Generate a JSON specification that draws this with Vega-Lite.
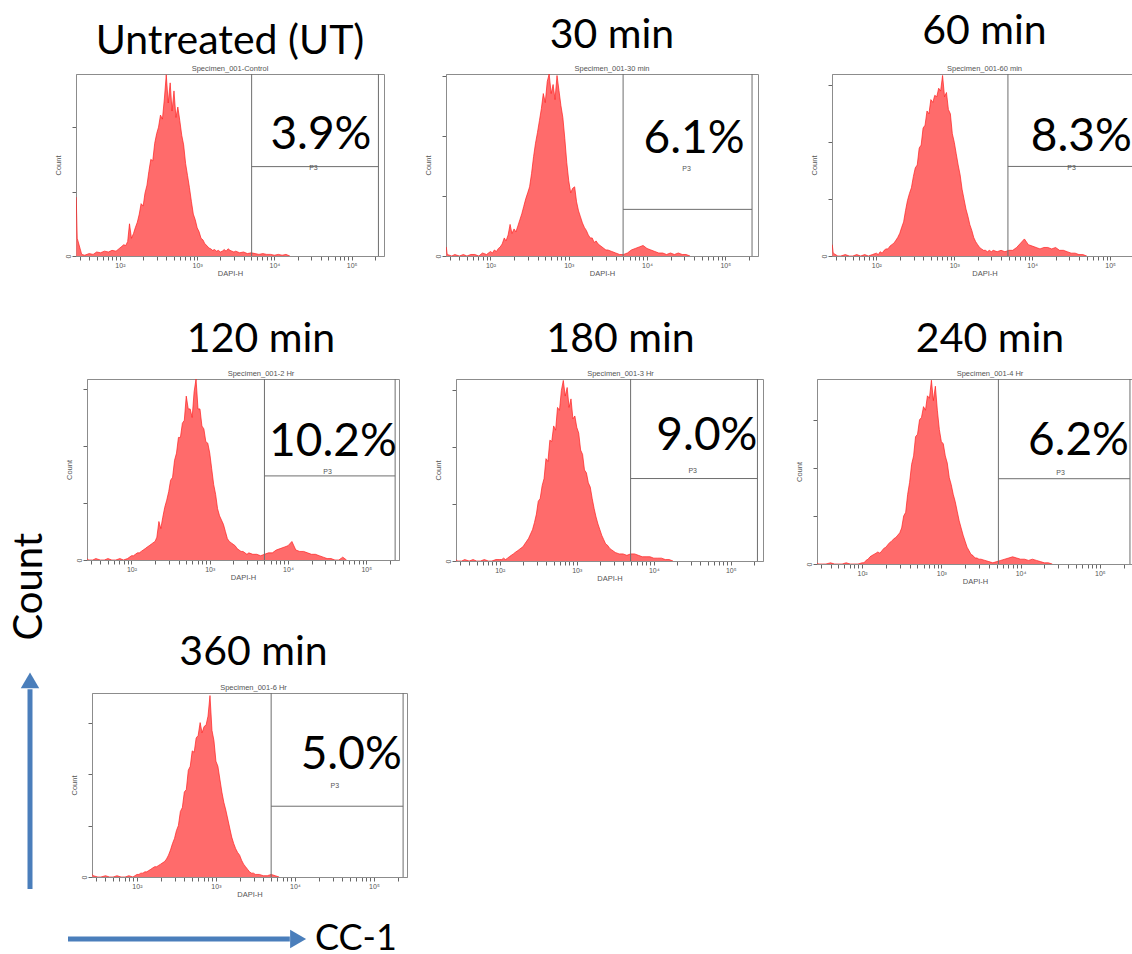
{
"$schema": "https://vega.github.io/schema/vega-lite/v6.json",
"padding": {"left": 8, "top": 10, "right": 0, "bottom": 0},
"background": "white",
"config": {
 "view": {"stroke": "#8c8c8c", "strokeWidth": 1},
 "axis": {"grid": false, "domainColor": "#8c8c8c", "tickColor": "#666", "tickSize": 4, "labelColor": "#555", "titleColor": "#555", "labelFont": "Liberation Sans", "titleFont": "Liberation Sans", "labelFontSize": 7, "titleFontSize": 7.5, "titleFontWeight": "normal", "labelPadding": 1, "labelOverlap": false, "labelFlush": false},
 "axisX": {"titlePadding": 1},
 "axisY": {"labelAngle": -90, "titlePadding": 2},
 "title": {"font": "Lato", "fontSize": 41, "fontWeight": "normal", "color": "#000", "anchor": "middle", "frame": "group", "offset": 0.1, "subtitleFont": "Liberation Sans", "subtitleFontSize": 7.5, "subtitleColor": "#555", "subtitlePadding": 2}
},
"datasets": {
"d1": [{"x":27.2,"c":73},{"x":28,"c":22},{"x":32,"c":2},{"x":35,"c":1},{"x":40,"c":3},{"x":45,"c":2},{"x":50,"c":5},{"x":56,"c":4},{"x":63,"c":6},{"x":71,"c":5},{"x":79,"c":7},{"x":89,"c":6},
{"x":100,"c":10},{"x":106,"c":12},{"x":112,"c":14},{"x":119,"c":13},{"x":126,"c":18},{"x":133,"c":40},{"x":141,"c":22},{"x":150,"c":28},{"x":158,"c":35},{"x":168,"c":42},
{"x":178,"c":52},{"x":188,"c":65},{"x":200,"c":62},{"x":211,"c":78},{"x":224,"c":88},{"x":237,"c":105},{"x":251,"c":120},{"x":266,"c":118},{"x":282,"c":140},{"x":299,"c":152},
{"x":316,"c":160},{"x":335,"c":175},{"x":355,"c":170},{"x":376,"c":195},{"x":398,"c":225},{"x":422,"c":190},{"x":447,"c":215},{"x":473,"c":180},{"x":501,"c":205},{"x":531,"c":172},
{"x":562,"c":185},{"x":596,"c":168},{"x":631,"c":150},{"x":668,"c":138},{"x":708,"c":115},{"x":750,"c":100},{"x":794,"c":85},{"x":841,"c":68},{"x":891,"c":52},{"x":944,"c":45},
{"x":1000,"c":35},{"x":1059,"c":30},{"x":1122,"c":22},{"x":1189,"c":20},{"x":1259,"c":15},{"x":1334,"c":13},{"x":1413,"c":10},{"x":1496,"c":9},{"x":1585,"c":7},{"x":1679,"c":8},
{"x":1778,"c":6},{"x":1884,"c":7},{"x":1995,"c":5},{"x":2113,"c":6},{"x":2239,"c":8},{"x":2371,"c":6},{"x":2512,"c":9},{"x":2661,"c":7},{"x":2818,"c":6},{"x":2985,"c":5},
{"x":3162,"c":6},{"x":3548,"c":4},{"x":3981,"c":5},{"x":4467,"c":3},{"x":5012,"c":4},{"x":5623,"c":3},{"x":6310,"c":2},{"x":7079,"c":3},{"x":7943,"c":2},{"x":8913,"c":2},{"x":10000,"c":1},{"x":11220,"c":2},{"x":12589,"c":1},{"x":14125,"c":2},{"x":15849,"c":0}],
"d2": [{"x":27.2,"c":6},{"x":28,"c":1},{"x":32,"c":0},{"x":35,"c":1},{"x":40,"c":0},{"x":45,"c":1},{"x":50,"c":0},{"x":56,"c":1},{"x":63,"c":1},{"x":71,"c":0},{"x":79,"c":2},{"x":89,"c":1},
{"x":100,"c":3},{"x":106,"c":2},{"x":112,"c":4},{"x":119,"c":3},{"x":126,"c":5},{"x":133,"c":6},{"x":141,"c":8},{"x":150,"c":12},{"x":158,"c":10},{"x":168,"c":14},
{"x":178,"c":21},{"x":188,"c":15},{"x":200,"c":18},{"x":211,"c":16},{"x":224,"c":20},{"x":237,"c":24},{"x":251,"c":28},{"x":266,"c":33},{"x":282,"c":38},{"x":299,"c":42},
{"x":316,"c":46},{"x":335,"c":55},{"x":355,"c":66},{"x":376,"c":75},{"x":398,"c":82},{"x":422,"c":90},{"x":447,"c":98},{"x":473,"c":108},{"x":501,"c":102},{"x":531,"c":116},
{"x":562,"c":121},{"x":596,"c":108},{"x":631,"c":114},{"x":668,"c":104},{"x":708,"c":120},{"x":750,"c":110},{"x":794,"c":100},{"x":841,"c":92},{"x":891,"c":78},{"x":944,"c":62},
{"x":1000,"c":50},{"x":1059,"c":42},{"x":1122,"c":45},{"x":1189,"c":46},{"x":1259,"c":36},{"x":1334,"c":30},{"x":1413,"c":26},{"x":1496,"c":22},{"x":1585,"c":19},{"x":1679,"c":17},
{"x":1778,"c":14},{"x":1884,"c":12},{"x":1995,"c":12},{"x":2113,"c":9},{"x":2239,"c":10},{"x":2371,"c":8},{"x":2512,"c":7},{"x":2661,"c":6},{"x":2818,"c":5},{"x":2985,"c":4},
{"x":3162,"c":4},{"x":3548,"c":3},{"x":3981,"c":2},{"x":4467,"c":1},{"x":5012,"c":1},{"x":5623,"c":2},{"x":6310,"c":4},{"x":7079,"c":5},{"x":7943,"c":6},{"x":8913,"c":7},{"x":10000,"c":5},{"x":11220,"c":4},{"x":12589,"c":3},{"x":14125,"c":2},{"x":15849,"c":2},{"x":17783,"c":1},{"x":19953,"c":2},{"x":22387,"c":1},{"x":25119,"c":2},{"x":28184,"c":1},{"x":31623,"c":1},{"x":35481,"c":0}],
"d3": [{"x":27.2,"c":8},{"x":28,"c":2},{"x":32,"c":0},{"x":35,"c":0},{"x":40,"c":1},{"x":45,"c":0},{"x":50,"c":0},{"x":56,"c":1},{"x":63,"c":0},{"x":71,"c":1},{"x":79,"c":0},{"x":89,"c":1},
{"x":100,"c":2},{"x":106,"c":1},{"x":112,"c":3},{"x":119,"c":2},{"x":126,"c":4},{"x":133,"c":5},{"x":141,"c":5},{"x":150,"c":7},{"x":158,"c":8},{"x":168,"c":9},
{"x":178,"c":11},{"x":188,"c":13},{"x":200,"c":16},{"x":211,"c":20},{"x":224,"c":24},{"x":237,"c":32},{"x":251,"c":39},{"x":266,"c":44},{"x":282,"c":48},{"x":299,"c":56},
{"x":316,"c":62},{"x":335,"c":64},{"x":355,"c":76},{"x":376,"c":78},{"x":398,"c":90},{"x":422,"c":92},{"x":447,"c":102},{"x":473,"c":100},{"x":501,"c":110},{"x":531,"c":108},
{"x":562,"c":113},{"x":596,"c":112},{"x":631,"c":118},{"x":668,"c":116},{"x":708,"c":127},{"x":750,"c":112},{"x":794,"c":115},{"x":841,"c":103},{"x":891,"c":100},{"x":944,"c":86},
{"x":1000,"c":80},{"x":1059,"c":72},{"x":1122,"c":64},{"x":1189,"c":57},{"x":1259,"c":47},{"x":1334,"c":40},{"x":1413,"c":33},{"x":1496,"c":28},{"x":1585,"c":22},{"x":1679,"c":18},
{"x":1778,"c":13},{"x":1884,"c":10},{"x":1995,"c":8},{"x":2113,"c":6},{"x":2239,"c":5},{"x":2371,"c":4},{"x":2512,"c":4},{"x":2661,"c":3},{"x":2818,"c":4},{"x":2985,"c":3},
{"x":3162,"c":4},{"x":3548,"c":3},{"x":3981,"c":4},{"x":4467,"c":3},{"x":5012,"c":4},{"x":5623,"c":4},{"x":6310,"c":6},{"x":7079,"c":9},{"x":7943,"c":12},{"x":8913,"c":8},{"x":10000,"c":7},{"x":11220,"c":6},{"x":12589,"c":5},{"x":14125,"c":6},{"x":15849,"c":6},{"x":17783,"c":5},{"x":19953,"c":6},{"x":22387,"c":4},{"x":25119,"c":4},{"x":28184,"c":3},{"x":31623,"c":2},{"x":35481,"c":2},{"x":39811,"c":1},{"x":44668,"c":1},{"x":50119,"c":0}],
"d4": [{"x":27.2,"c":1},{"x":28,"c":0},{"x":32,"c":0},{"x":35,"c":1},{"x":40,"c":0},{"x":45,"c":0},{"x":50,"c":1},{"x":56,"c":0},{"x":63,"c":0},{"x":71,"c":1},{"x":79,"c":0},{"x":89,"c":1},
{"x":100,"c":3},{"x":106,"c":3},{"x":112,"c":4},{"x":119,"c":5},{"x":126,"c":5},{"x":133,"c":6},{"x":141,"c":7},{"x":150,"c":8},{"x":158,"c":9},{"x":168,"c":10},
{"x":178,"c":11},{"x":188,"c":12},{"x":200,"c":13},{"x":211,"c":16},{"x":224,"c":27},{"x":237,"c":22},{"x":251,"c":30},{"x":266,"c":37},{"x":282,"c":42},{"x":299,"c":48},
{"x":316,"c":56},{"x":335,"c":58},{"x":355,"c":70},{"x":376,"c":75},{"x":398,"c":86},{"x":422,"c":86},{"x":447,"c":96},{"x":473,"c":98},{"x":501,"c":115},{"x":531,"c":106},
{"x":562,"c":106},{"x":596,"c":100},{"x":631,"c":118},{"x":668,"c":127},{"x":708,"c":106},{"x":750,"c":106},{"x":794,"c":94},{"x":841,"c":92},{"x":891,"c":83},{"x":944,"c":82},
{"x":1000,"c":75},{"x":1059,"c":64},{"x":1122,"c":53},{"x":1189,"c":46},{"x":1259,"c":36},{"x":1334,"c":31},{"x":1413,"c":28},{"x":1496,"c":25},{"x":1585,"c":20},{"x":1679,"c":15},
{"x":1778,"c":13},{"x":1884,"c":12},{"x":1995,"c":11},{"x":2113,"c":10},{"x":2239,"c":8},{"x":2371,"c":7},{"x":2512,"c":6},{"x":2661,"c":6},{"x":2818,"c":5},{"x":2985,"c":4},
{"x":3162,"c":5},{"x":3548,"c":4},{"x":3981,"c":4},{"x":4467,"c":3},{"x":5012,"c":4},{"x":5623,"c":5},{"x":6310,"c":5},{"x":7079,"c":7},{"x":7943,"c":8},{"x":8913,"c":9},{"x":10000,"c":10},{"x":11220,"c":13},{"x":12589,"c":7},{"x":14125,"c":6},{"x":15849,"c":6},{"x":17783,"c":5},{"x":19953,"c":4},{"x":22387,"c":4},{"x":25119,"c":3},{"x":28184,"c":2},{"x":31623,"c":1},{"x":35481,"c":1},{"x":39811,"c":0},{"x":44668,"c":0},{"x":50119,"c":2},{"x":56000,"c":0}],
"d5": [{"x":27.2,"c":1},{"x":28,"c":0},{"x":32,"c":0},{"x":35,"c":1},{"x":40,"c":0},{"x":45,"c":1},{"x":50,"c":0},{"x":56,"c":0},{"x":63,"c":1},{"x":71,"c":0},{"x":79,"c":0},{"x":89,"c":1},
{"x":100,"c":1},{"x":106,"c":1},{"x":112,"c":2},{"x":119,"c":1},{"x":126,"c":2},{"x":133,"c":3},{"x":141,"c":4},{"x":150,"c":5},{"x":158,"c":6},{"x":168,"c":7},
{"x":178,"c":8},{"x":188,"c":9},{"x":200,"c":10},{"x":211,"c":12},{"x":224,"c":14},{"x":237,"c":16},{"x":251,"c":19},{"x":266,"c":22},{"x":282,"c":27},{"x":299,"c":33},
{"x":316,"c":42},{"x":335,"c":44},{"x":355,"c":53},{"x":376,"c":58},{"x":398,"c":72},{"x":422,"c":70},{"x":447,"c":85},{"x":473,"c":84},{"x":501,"c":95},{"x":531,"c":92},
{"x":562,"c":108},{"x":596,"c":106},{"x":631,"c":120},{"x":668,"c":127},{"x":708,"c":116},{"x":750,"c":122},{"x":794,"c":108},{"x":841,"c":114},{"x":891,"c":100},{"x":944,"c":102},
{"x":1000,"c":94},{"x":1059,"c":90},{"x":1122,"c":78},{"x":1189,"c":75},{"x":1259,"c":64},{"x":1334,"c":62},{"x":1413,"c":55},{"x":1496,"c":52},{"x":1585,"c":44},{"x":1679,"c":37},
{"x":1778,"c":31},{"x":1884,"c":26},{"x":1995,"c":22},{"x":2113,"c":18},{"x":2239,"c":15},{"x":2371,"c":12},{"x":2512,"c":11},{"x":2661,"c":9},{"x":2818,"c":8},{"x":2985,"c":7},
{"x":3162,"c":6},{"x":3548,"c":5},{"x":3981,"c":5},{"x":4467,"c":4},{"x":5012,"c":5},{"x":5623,"c":5},{"x":6310,"c":4},{"x":7079,"c":3},{"x":7943,"c":3},{"x":8913,"c":3},{"x":10000,"c":2},{"x":11220,"c":2},{"x":12589,"c":2},{"x":14125,"c":1},{"x":15849,"c":1},{"x":17783,"c":0}],
"d6": [{"x":27.2,"c":1},{"x":28,"c":0},{"x":32,"c":0},{"x":35,"c":0},{"x":40,"c":1},{"x":45,"c":0},{"x":50,"c":0},{"x":56,"c":0},{"x":63,"c":1},{"x":71,"c":0},{"x":79,"c":0},{"x":89,"c":0},
{"x":100,"c":1},{"x":106,"c":1},{"x":112,"c":3},{"x":119,"c":4},{"x":126,"c":6},{"x":133,"c":7},{"x":141,"c":8},{"x":150,"c":9},{"x":158,"c":10},{"x":168,"c":9},
{"x":178,"c":11},{"x":188,"c":13},{"x":200,"c":14},{"x":211,"c":16},{"x":224,"c":18},{"x":237,"c":19},{"x":251,"c":21},{"x":266,"c":22},{"x":282,"c":24},{"x":299,"c":26},
{"x":316,"c":30},{"x":335,"c":40},{"x":355,"c":43},{"x":376,"c":58},{"x":398,"c":68},{"x":422,"c":83},{"x":447,"c":90},{"x":473,"c":106},{"x":501,"c":108},{"x":531,"c":120},
{"x":562,"c":122},{"x":596,"c":131},{"x":631,"c":128},{"x":668,"c":140},{"x":708,"c":138},{"x":750,"c":153},{"x":794,"c":136},{"x":841,"c":148},{"x":891,"c":128},{"x":944,"c":112},
{"x":1000,"c":102},{"x":1059,"c":100},{"x":1122,"c":90},{"x":1189,"c":84},{"x":1259,"c":72},{"x":1334,"c":66},{"x":1413,"c":58},{"x":1496,"c":52},{"x":1585,"c":44},{"x":1679,"c":36},
{"x":1778,"c":30},{"x":1884,"c":24},{"x":1995,"c":19},{"x":2113,"c":14},{"x":2239,"c":11},{"x":2371,"c":8},{"x":2512,"c":7},{"x":2661,"c":5},{"x":2818,"c":5},{"x":2985,"c":4},
{"x":3162,"c":4},{"x":3548,"c":3},{"x":3981,"c":2},{"x":4467,"c":1},{"x":5012,"c":2},{"x":5623,"c":3},{"x":6310,"c":4},{"x":7079,"c":5},{"x":7943,"c":6},{"x":8913,"c":5},{"x":10000,"c":4},{"x":11220,"c":4},{"x":12589,"c":3},{"x":14125,"c":4},{"x":15849,"c":3},{"x":17783,"c":2},{"x":19953,"c":1},{"x":22387,"c":1},{"x":25119,"c":0}],
"d7": [{"x":27.2,"c":2},{"x":28,"c":1},{"x":32,"c":0},{"x":35,"c":0},{"x":40,"c":1},{"x":45,"c":0},{"x":50,"c":0},{"x":56,"c":1},{"x":63,"c":0},{"x":71,"c":0},{"x":79,"c":1},{"x":89,"c":0},
{"x":100,"c":2},{"x":106,"c":2},{"x":112,"c":3},{"x":119,"c":3},{"x":126,"c":4},{"x":133,"c":4},{"x":141,"c":5},{"x":150,"c":6},{"x":158,"c":7},{"x":168,"c":8},
{"x":178,"c":8},{"x":188,"c":9},{"x":200,"c":10},{"x":211,"c":11},{"x":224,"c":12},{"x":237,"c":14},{"x":251,"c":17},{"x":266,"c":21},{"x":282,"c":26},{"x":299,"c":30},
{"x":316,"c":36},{"x":335,"c":40},{"x":355,"c":51},{"x":376,"c":54},{"x":398,"c":66},{"x":422,"c":68},{"x":447,"c":83},{"x":473,"c":86},{"x":501,"c":98},{"x":531,"c":97},
{"x":562,"c":108},{"x":596,"c":110},{"x":631,"c":120},{"x":668,"c":112},{"x":708,"c":117},{"x":750,"c":118},{"x":794,"c":125},{"x":841,"c":141},{"x":891,"c":114},{"x":944,"c":106},
{"x":1000,"c":90},{"x":1059,"c":86},{"x":1122,"c":76},{"x":1189,"c":66},{"x":1259,"c":58},{"x":1334,"c":52},{"x":1413,"c":45},{"x":1496,"c":38},{"x":1585,"c":31},{"x":1679,"c":26},
{"x":1778,"c":22},{"x":1884,"c":19},{"x":1995,"c":17},{"x":2113,"c":13},{"x":2239,"c":10},{"x":2371,"c":8},{"x":2512,"c":6},{"x":2661,"c":4},{"x":2818,"c":3},{"x":2985,"c":3},
{"x":3162,"c":2},{"x":3548,"c":2},{"x":3981,"c":1},{"x":4467,"c":1},{"x":5012,"c":2},{"x":5623,"c":1},{"x":6310,"c":0}]
},
"spacing": 0,
"hconcat": [
 {
  "width": 44, "height": 815,
  "view": {"stroke": null},
  "data": {"values": [{"y0": 0, "y1": 24.5, "ya": 25.6, "yt": 37.1, "lab": "Count"}]},
  "encoding": {"x": {"datum": 0.5, "type": "quantitative", "scale": {"domain": [0, 1]}, "axis": null}},
  "layer": [
   {"mark": {"type": "rule", "color": "#4a7ebb", "strokeWidth": 5}, "encoding": {"y": {"field": "y0", "type": "quantitative", "scale": {"domain": [0, 100]}, "axis": null}, "y2": {"field": "y1"}}},
   {"mark": {"type": "point", "shape": "triangle-up", "filled": true, "color": "#4a7ebb", "opacity": 1, "size": 340}, "encoding": {"y": {"field": "ya", "type": "quantitative", "axis": null}}},
   {"mark": {"type": "text", "angle": 270, "fontSize": 40, "font": "Lato", "color": "#000"}, "encoding": {"y": {"field": "yt", "type": "quantitative", "axis": null}, "text": {"field": "lab"}}}
  ]
 },
 {
  "spacing": 0,
  "vconcat": [
   {"spacing": 0, "hconcat": [
    {"width": 1, "height": 244, "view": {"stroke": null}, "data": {"values": [{}]}, "mark": {"type": "text", "text": ""}, "encoding": {}},
    {"width": 308, "height": 182,
     "title": {"text": "Untreated (UT)", "subtitle": "Specimen_001-Control", "subtitlePadding": 2},
     "data": {"values": [{"gl":5070,"gr":222000,"gy":111,"px":32000,"py":109,"pct":"3.9%","tx":40000,"ty":150}]},
     "layer": [
      {"data": {"name": "d1"}, "mark": {"type": "area", "color": "#ff6b6b", "opacity": 1, "line": {"color": "#ff2020", "strokeWidth": 0.7}, "clip": true},
       "encoding": {
        "x": {"field": "x", "type": "quantitative", "scale": {"type": "log", "domain": [27, 262143], "nice": false}, "axis": {"title": "DAPI-H", "values": [30,40,50,60,70,80,90,100,200,300,400,500,600,700,800,900,1000,2000,3000,4000,5000,6000,7000,8000,9000,10000,20000,30000,40000,50000,60000,70000,80000,90000,100000,200000], "labelExpr": "datum.value == 100 ? '10²' : datum.value == 1000 ? '10³' : datum.value == 10000 ? '10⁴' : datum.value == 100000 ? '10⁵' : ''"}},
        "y": {"field": "c", "type": "quantitative", "scale": {"domain": [0, 226], "nice": false}, "axis": {"title": "Count", "values": [0,10,20,30,40,50,60,70,80,90,100,110,120,130,140,150,160,170,180,190,200,210,220], "labelExpr": "datum.value % 50 == 0 ? datum.label : ''"}}
       }},
      {"mark": {"type": "rule", "color": "#6e6e6e", "clip": true}, "encoding": {"x": {"field": "gl", "type": "quantitative"}}},
      {"mark": {"type": "rule", "color": "#6e6e6e", "clip": true}, "encoding": {"x": {"field": "gr", "type": "quantitative"}}},
      {"mark": {"type": "rule", "color": "#6e6e6e", "clip": true}, "encoding": {"x": {"field": "gl", "type": "quantitative"}, "x2": {"field": "gr"}, "y": {"field": "gy", "type": "quantitative"}}},
      {"mark": {"type": "text", "text": "P3", "fontSize": 7, "color": "#555", "font": "Liberation Sans"}, "encoding": {"x": {"field": "px", "type": "quantitative"}, "y": {"field": "py", "type": "quantitative"}}},
      {"mark": {"type": "text", "fontSize": 46, "font": "Lato", "color": "#000"}, "encoding": {"x": {"field": "tx", "type": "quantitative"}, "y": {"field": "ty", "type": "quantitative"}, "text": {"field": "pct"}}}
     ]},
    {"width": 38, "height": 1, "view": {"stroke": null}, "data": {"values": [{}]}, "mark": {"type": "text", "text": ""}, "encoding": {}},
    {"width": 312, "height": 182,
     "title": {"text": "30 min", "subtitle": "Specimen_001-30 min", "dx": 10, "subtitlePadding": 8},
     "data": {"values": [{"gl":4950,"gr":220000,"gy":31,"px":32000,"py":58,"pct":"6.1%","tx":40000,"ty":78}]},
     "layer": [
      {"data": {"name": "d2"}, "mark": {"type": "area", "color": "#ff6b6b", "opacity": 1, "line": {"color": "#ff2020", "strokeWidth": 0.7}, "clip": true},
       "encoding": {
        "x": {"field": "x", "type": "quantitative", "scale": {"type": "log", "domain": [27, 262143], "nice": false}, "axis": {"title": "DAPI-H", "values": [30,40,50,60,70,80,90,100,200,300,400,500,600,700,800,900,1000,2000,3000,4000,5000,6000,7000,8000,9000,10000,20000,30000,40000,50000,60000,70000,80000,90000,100000,200000], "labelExpr": "datum.value == 100 ? '10²' : datum.value == 1000 ? '10³' : datum.value == 10000 ? '10⁴' : datum.value == 100000 ? '10⁵' : ''"}},
        "y": {"field": "c", "type": "quantitative", "scale": {"domain": [0, 121], "nice": false}, "axis": {"title": "Count", "values": [0,5,10,15,20,25,30,35,40,45,50,55,60,65,70,75,80,85,90,95,100,105,110,115,120], "labelExpr": "datum.value % 25 == 0 ? datum.label : ''"}}
       }},
      {"mark": {"type": "rule", "color": "#6e6e6e", "clip": true}, "encoding": {"x": {"field": "gl", "type": "quantitative"}}},
      {"mark": {"type": "rule", "color": "#6e6e6e", "clip": true}, "encoding": {"x": {"field": "gr", "type": "quantitative"}}},
      {"mark": {"type": "rule", "color": "#6e6e6e", "clip": true}, "encoding": {"x": {"field": "gl", "type": "quantitative"}, "x2": {"field": "gr"}, "y": {"field": "gy", "type": "quantitative"}}},
      {"mark": {"type": "text", "text": "P3", "fontSize": 7, "color": "#555", "font": "Liberation Sans"}, "encoding": {"x": {"field": "px", "type": "quantitative"}, "y": {"field": "py", "type": "quantitative"}}},
      {"mark": {"type": "text", "fontSize": 46, "font": "Lato", "color": "#000"}, "encoding": {"x": {"field": "tx", "type": "quantitative"}, "y": {"field": "ty", "type": "quantitative"}, "text": {"field": "pct"}}}
     ]},
    {"width": 50, "height": 1, "view": {"stroke": null}, "data": {"values": [{}]}, "mark": {"type": "text", "text": ""}, "encoding": {}},
    {"width": 305, "height": 182,
     "title": {"text": "60 min", "subtitle": "Specimen_001-60 min", "subtitlePadding": 12},
     "data": {"values": [{"gl":4880,"gr":240000,"gy":63,"px":32000,"py":62,"pct":"8.3%","tx":42700,"ty":84}]},
     "layer": [
      {"data": {"name": "d3"}, "mark": {"type": "area", "color": "#ff6b6b", "opacity": 1, "line": {"color": "#ff2020", "strokeWidth": 0.7}, "clip": true},
       "encoding": {
        "x": {"field": "x", "type": "quantitative", "scale": {"type": "log", "domain": [27, 221000], "nice": false}, "axis": {"title": "DAPI-H", "values": [30,40,50,60,70,80,90,100,200,300,400,500,600,700,800,900,1000,2000,3000,4000,5000,6000,7000,8000,9000,10000,20000,30000,40000,50000,60000,70000,80000,90000,100000,200000], "labelExpr": "datum.value == 100 ? '10²' : datum.value == 1000 ? '10³' : datum.value == 10000 ? '10⁴' : datum.value == 100000 ? '10⁵' : ''"}},
        "y": {"field": "c", "type": "quantitative", "scale": {"domain": [0, 128], "nice": false}, "axis": {"title": "Count", "values": [0,5,10,15,20,25,30,35,40,45,50,55,60,65,70,75,80,85,90,95,100,105,110,115,120,125], "labelExpr": "datum.value % 25 == 0 ? datum.label : ''"}}
       }},
      {"mark": {"type": "rule", "color": "#6e6e6e", "clip": true}, "encoding": {"x": {"field": "gl", "type": "quantitative"}}},
      {"mark": {"type": "rule", "color": "#6e6e6e", "clip": true}, "encoding": {"x": {"field": "gl", "type": "quantitative"}, "x2": {"field": "gr"}, "y": {"field": "gy", "type": "quantitative"}}},
      {"mark": {"type": "text", "text": "P3", "fontSize": 7, "color": "#555", "font": "Liberation Sans"}, "encoding": {"x": {"field": "px", "type": "quantitative"}, "y": {"field": "py", "type": "quantitative"}}},
      {"mark": {"type": "text", "fontSize": 46, "font": "Lato", "color": "#000"}, "encoding": {"x": {"field": "tx", "type": "quantitative"}, "y": {"field": "ty", "type": "quantitative"}, "text": {"field": "pct"}}}
     ]}
   ]},
   {"spacing": 0, "hconcat": [
    {"width": 12, "height": 252, "view": {"stroke": null}, "data": {"values": [{}]}, "mark": {"type": "text", "text": ""}, "encoding": {}},
    {"width": 312, "height": 181,
     "title": {"text": "120 min", "subtitle": "Specimen_001-2 Hr", "dx": 18, "subtitlePadding": 9},
     "data": {"values": [{"gl":5000,"gr":234000,"gy":59,"px":32000,"py":62,"pct":"10.2%","tx":37500,"ty":83}]},
     "layer": [
      {"data": {"name": "d4"}, "mark": {"type": "area", "color": "#ff6b6b", "opacity": 1, "line": {"color": "#ff2020", "strokeWidth": 0.7}, "clip": true},
       "encoding": {
        "x": {"field": "x", "type": "quantitative", "scale": {"type": "log", "domain": [27, 262143], "nice": false}, "axis": {"title": "DAPI-H", "values": [30,40,50,60,70,80,90,100,200,300,400,500,600,700,800,900,1000,2000,3000,4000,5000,6000,7000,8000,9000,10000,20000,30000,40000,50000,60000,70000,80000,90000,100000,200000], "labelExpr": "datum.value == 100 ? '10²' : datum.value == 1000 ? '10³' : datum.value == 10000 ? '10⁴' : datum.value == 100000 ? '10⁵' : ''"}},
        "y": {"field": "c", "type": "quantitative", "scale": {"domain": [0, 127], "nice": false}, "axis": {"title": "Count", "values": [0,5,10,15,20,25,30,35,40,45,50,55,60,65,70,75,80,85,90,95,100,105,110,115,120,125], "labelExpr": "datum.value % 25 == 0 ? datum.label : ''"}}
       }},
      {"mark": {"type": "rule", "color": "#6e6e6e", "clip": true}, "encoding": {"x": {"field": "gl", "type": "quantitative"}}},
      {"mark": {"type": "rule", "color": "#6e6e6e", "clip": true}, "encoding": {"x": {"field": "gr", "type": "quantitative"}}},
      {"mark": {"type": "rule", "color": "#6e6e6e", "clip": true}, "encoding": {"x": {"field": "gl", "type": "quantitative"}, "x2": {"field": "gr"}, "y": {"field": "gy", "type": "quantitative"}}},
      {"mark": {"type": "text", "text": "P3", "fontSize": 7, "color": "#555", "font": "Liberation Sans"}, "encoding": {"x": {"field": "px", "type": "quantitative"}, "y": {"field": "py", "type": "quantitative"}}},
      {"mark": {"type": "text", "fontSize": 46, "font": "Lato", "color": "#000"}, "encoding": {"x": {"field": "tx", "type": "quantitative"}, "y": {"field": "ty", "type": "quantitative"}, "text": {"field": "pct"}}}
     ]},
    {"width": 33, "height": 1, "view": {"stroke": null}, "data": {"values": [{}]}, "mark": {"type": "text", "text": ""}, "encoding": {}},
    {"width": 307, "height": 182,
     "title": {"text": "180 min", "subtitle": "Specimen_001-3 Hr", "dx": 11, "subtitlePadding": 9},
     "data": {"values": [{"gl":5000,"gr":222000,"gy":58,"px":32000,"py":63,"pct":"9.0%","tx":49000,"ty":88}]},
     "layer": [
      {"data": {"name": "d5"}, "mark": {"type": "area", "color": "#ff6b6b", "opacity": 1, "line": {"color": "#ff2020", "strokeWidth": 0.7}, "clip": true},
       "encoding": {
        "x": {"field": "x", "type": "quantitative", "scale": {"type": "log", "domain": [27, 262143], "nice": false}, "axis": {"title": "DAPI-H", "values": [30,40,50,60,70,80,90,100,200,300,400,500,600,700,800,900,1000,2000,3000,4000,5000,6000,7000,8000,9000,10000,20000,30000,40000,50000,60000,70000,80000,90000,100000,200000], "labelExpr": "datum.value == 100 ? '10²' : datum.value == 1000 ? '10³' : datum.value == 10000 ? '10⁴' : datum.value == 100000 ? '10⁵' : ''"}},
        "y": {"field": "c", "type": "quantitative", "scale": {"domain": [0, 128], "nice": false}, "axis": {"title": "Count", "values": [0,5,10,15,20,25,30,35,40,45,50,55,60,65,70,75,80,85,90,95,100,105,110,115,120,125], "labelExpr": "datum.value % 25 == 0 ? datum.label : ''"}}
       }},
      {"mark": {"type": "rule", "color": "#6e6e6e", "clip": true}, "encoding": {"x": {"field": "gl", "type": "quantitative"}}},
      {"mark": {"type": "rule", "color": "#6e6e6e", "clip": true}, "encoding": {"x": {"field": "gr", "type": "quantitative"}}},
      {"mark": {"type": "rule", "color": "#6e6e6e", "clip": true}, "encoding": {"x": {"field": "gl", "type": "quantitative"}, "x2": {"field": "gr"}, "y": {"field": "gy", "type": "quantitative"}}},
      {"mark": {"type": "text", "text": "P3", "fontSize": 7, "color": "#555", "font": "Liberation Sans"}, "encoding": {"x": {"field": "px", "type": "quantitative"}, "y": {"field": "py", "type": "quantitative"}}},
      {"mark": {"type": "text", "fontSize": 46, "font": "Lato", "color": "#000"}, "encoding": {"x": {"field": "tx", "type": "quantitative"}, "y": {"field": "ty", "type": "quantitative"}, "text": {"field": "pct"}}}
     ]},
    {"width": 30, "height": 1, "view": {"stroke": null}, "data": {"values": [{}]}, "mark": {"type": "text", "text": ""}, "encoding": {}},
    {"width": 316, "height": 185,
     "title": {"text": "240 min", "subtitle": "Specimen_001-4 Hr", "dx": 15, "subtitlePadding": 9},
     "data": {"values": [{"gl":5250,"gr":240000,"gy":71,"px":32000,"py":76,"pct":"6.2%","tx":53700,"ty":102}]},
     "layer": [
      {"data": {"name": "d6"}, "mark": {"type": "area", "color": "#ff6b6b", "opacity": 1, "line": {"color": "#ff2020", "strokeWidth": 0.7}, "clip": true},
       "encoding": {
        "x": {"field": "x", "type": "quantitative", "scale": {"type": "log", "domain": [27, 262143], "nice": false}, "axis": {"title": "DAPI-H", "values": [30,40,50,60,70,80,90,100,200,300,400,500,600,700,800,900,1000,2000,3000,4000,5000,6000,7000,8000,9000,10000,20000,30000,40000,50000,60000,70000,80000,90000,100000,200000], "labelExpr": "datum.value == 100 ? '10²' : datum.value == 1000 ? '10³' : datum.value == 10000 ? '10⁴' : datum.value == 100000 ? '10⁵' : ''"}},
        "y": {"field": "c", "type": "quantitative", "scale": {"domain": [0, 154], "nice": false}, "axis": {"title": "Count", "values": [0,10,20,30,40,50,60,70,80,90,100,110,120,130,140,150], "labelExpr": "datum.value % 50 == 0 ? datum.label : ''"}}
       }},
      {"mark": {"type": "rule", "color": "#6e6e6e", "clip": true}, "encoding": {"x": {"field": "gl", "type": "quantitative"}}},
      {"mark": {"type": "rule", "color": "#6e6e6e", "clip": true}, "encoding": {"x": {"field": "gr", "type": "quantitative"}}},
      {"mark": {"type": "rule", "color": "#6e6e6e", "clip": true}, "encoding": {"x": {"field": "gl", "type": "quantitative"}, "x2": {"field": "gr"}, "y": {"field": "gy", "type": "quantitative"}}},
      {"mark": {"type": "text", "text": "P3", "fontSize": 7, "color": "#555", "font": "Liberation Sans"}, "encoding": {"x": {"field": "px", "type": "quantitative"}, "y": {"field": "py", "type": "quantitative"}}},
      {"mark": {"type": "text", "fontSize": 46, "font": "Lato", "color": "#000"}, "encoding": {"x": {"field": "tx", "type": "quantitative"}, "y": {"field": "ty", "type": "quantitative"}, "text": {"field": "pct"}}}
     ]}
   ]},
   {"spacing": 0, "hconcat": [
    {"width": 17, "height": 228, "view": {"stroke": null}, "data": {"values": [{}]}, "mark": {"type": "text", "text": ""}, "encoding": {}},
    {"width": 315, "height": 184,
     "title": {"text": "360 min", "subtitle": "Specimen_001-6 Hr", "dx": 4, "subtitlePadding": 10},
     "data": {"values": [{"gl":5000,"gr":234000,"gy":55,"px":32000,"py":71,"pct":"5.0%","tx":51600,"ty":95}]},
     "layer": [
      {"data": {"name": "d7"}, "mark": {"type": "area", "color": "#ff6b6b", "opacity": 1, "line": {"color": "#ff2020", "strokeWidth": 0.7}, "clip": true},
       "encoding": {
        "x": {"field": "x", "type": "quantitative", "scale": {"type": "log", "domain": [27, 262143], "nice": false}, "axis": {"title": "DAPI-H", "values": [30,40,50,60,70,80,90,100,200,300,400,500,600,700,800,900,1000,2000,3000,4000,5000,6000,7000,8000,9000,10000,20000,30000,40000,50000,60000,70000,80000,90000,100000,200000], "labelExpr": "datum.value == 100 ? '10²' : datum.value == 1000 ? '10³' : datum.value == 10000 ? '10⁴' : datum.value == 100000 ? '10⁵' : ''"}},
        "y": {"field": "c", "type": "quantitative", "scale": {"domain": [0, 143], "nice": false}, "axis": {"title": "Count", "values": [0,5,10,15,20,25,30,35,40,45,50,55,60,65,70,75,80,85,90,95,100,105,110,115,120,125,130,135,140], "labelExpr": "datum.value % 25 == 0 ? datum.label : ''"}}
       }},
      {"mark": {"type": "rule", "color": "#6e6e6e", "clip": true}, "encoding": {"x": {"field": "gl", "type": "quantitative"}}},
      {"mark": {"type": "rule", "color": "#6e6e6e", "clip": true}, "encoding": {"x": {"field": "gr", "type": "quantitative"}}},
      {"mark": {"type": "rule", "color": "#6e6e6e", "clip": true}, "encoding": {"x": {"field": "gl", "type": "quantitative"}, "x2": {"field": "gr"}, "y": {"field": "gy", "type": "quantitative"}}},
      {"mark": {"type": "text", "text": "P3", "fontSize": 7, "color": "#555", "font": "Liberation Sans"}, "encoding": {"x": {"field": "px", "type": "quantitative"}, "y": {"field": "py", "type": "quantitative"}}},
      {"mark": {"type": "text", "fontSize": 46, "font": "Lato", "color": "#000"}, "encoding": {"x": {"field": "tx", "type": "quantitative"}, "y": {"field": "ty", "type": "quantitative"}, "text": {"field": "pct"}}}
     ]}
   ]},
   {"spacing": 0, "hconcat": [
    {"width": 13, "height": 30, "view": {"stroke": null}, "data": {"values": [{}]}, "mark": {"type": "text", "text": ""}, "encoding": {}},
    {"width": 345, "height": 30,
     "view": {"stroke": null},
     "data": {"values": [{"a": 0, "b": 64.3, "h": 66.7, "t": 71.6, "lab": "CC-1"}]},
     "encoding": {"y": {"datum": 0.5, "type": "quantitative", "scale": {"domain": [0, 1]}, "axis": null}},
     "layer": [
      {"mark": {"type": "rule", "color": "#4a7ebb", "strokeWidth": 5}, "encoding": {"x": {"field": "a", "type": "quantitative", "scale": {"domain": [0, 100]}, "axis": null}, "x2": {"field": "b"}}},
      {"mark": {"type": "point", "shape": "triangle-right", "filled": true, "color": "#4a7ebb", "opacity": 1, "size": 340}, "encoding": {"x": {"field": "h", "type": "quantitative", "axis": null}}},
      {"mark": {"type": "text", "align": "left", "fontSize": 36, "font": "Lato", "color": "#000"}, "encoding": {"x": {"field": "t", "type": "quantitative", "axis": null}, "text": {"field": "lab"}}}
     ]}
   ]}
  ]
 }
]
}
